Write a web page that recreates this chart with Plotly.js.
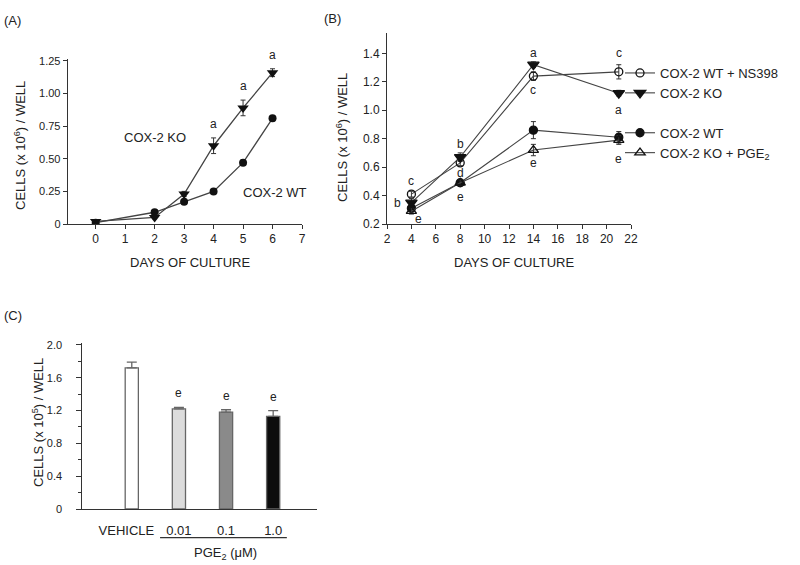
<!DOCTYPE html>
<html>
<head>
<meta charset="utf-8">
<script src="https://cdn.plot.ly/plotly-3.0.1.min.js"></script>
<style>html,body{margin:0;padding:0;background:#fff;}#chart{width:800px;height:565px;}</style>
</head>
<body>
<div id="chart"></div>
<script>
// ---------- Panel A data ----------
const daysA = [0, 2, 3, 4, 5, 6];
const koA = [0.02, 0.05, 0.23, 0.60, 0.89, 1.16];
const koErrA = [0.01, 0.01, 0.02, 0.06, 0.06, 0.03];
const wtA = [0.01, 0.09, 0.17, 0.25, 0.47, 0.81];
const wtErrA = [0.005, 0.01, 0.01, 0.01, 0.02, 0.02];
const lettersA = ['', '', '', 'a', 'a', 'a'];
const ticksAx = [0, 1, 2, 3, 4, 5, 6, 7];
const ticksAy = [0, 0.25, 0.5, 0.75, 1.0, 1.25];
const tickTextAy = ['0', '0.25', '0.50', '0.75', '1.00', '1.25'];

// ---------- Panel B data ----------
const daysB = [4, 8, 14, 21];
const ns398B = [0.41, 0.63, 1.24, 1.27];
const ns398ErrB = [0.02, 0.02, 0.03, 0.05];
const koB = [0.35, 0.67, 1.32, 1.12];
const koErrB = [0.03, 0.03, 0.02, 0.02];
const wtB = [0.31, 0.49, 0.86, 0.81];
const wtErrB = [0.02, 0.02, 0.06, 0.04];
const koPgeB = [0.29, 0.49, 0.72, 0.79];
const koPgeErrB = [0.02, 0.02, 0.04, 0.03];
const namesB = ['COX-2 WT + NS398', 'COX-2 KO', 'COX-2 WT', 'COX-2 KO + PGE<sub>2</sub>'];
const ticksBx = [2, 4, 6, 8, 10, 12, 14, 16, 18, 20, 22];
const ticksBy = [0.2, 0.4, 0.6, 0.8, 1.0, 1.2, 1.4];
const tickTextBy = ['0.2', '0.4', '0.6', '0.8', '1.0', '1.2', '1.4'];
// letter labels for panel B: [letter, day, y]
const lettersB = [
  ['c', 4, 0.50], ['b', 2.87, 0.35], ['e', 4.6, 0.235],
  ['b', 8, 0.76], ['d', 8, 0.56], ['e', 8, 0.39],
  ['a', 14, 1.405], ['c', 14, 1.14], ['e', 14, 0.63],
  ['c', 21, 1.40], ['a', 21, 1.00], ['e', 21, 0.66]
];

// ---------- Panel C data ----------
const catsC = ['VEHICLE', '0.01', '0.1', '1.0'];
const valsC = [1.72, 1.22, 1.18, 1.13];
const errC = [0.07, 0.02, 0.03, 0.07];
const lettersC = ['', 'e', 'e', 'e'];
const colorsC = ['#ffffff', '#dcdcdc', '#8a8a8a', '#0d0d0d'];
const ticksCy = [0, 0.4, 0.8, 1.2, 1.6, 2.0];
const tickTextCy = ['0', '0.4', '0.8', '1.2', '1.6', '2.0'];
const minorCy = [0.2, 0.6, 1.0, 1.4, 1.8];

const FONT = 'Arial, "Liberation Sans", Helvetica, sans-serif';
const INK = '#222';
const LINE = '#444';

function errBar(arr, w) {
  return {type: 'data', array: arr, visible: true, color: '#333', thickness: 1, width: w};
}

const traces = [];
// Panel A
traces.push({
  x: daysA, y: wtA, xaxis: 'x', yaxis: 'y', mode: 'lines+markers', showlegend: false,
  line: {color: LINE, width: 1.3},
  marker: {symbol: 'circle', size: 8, color: '#111'},
  error_y: errBar(wtErrA, 2.5)
});
traces.push({
  x: daysA, y: koA, xaxis: 'x', yaxis: 'y', mode: 'lines+markers', showlegend: false,
  line: {color: LINE, width: 1.3},
  marker: {symbol: 'triangle-down', size: 10, color: '#111'},
  error_y: errBar(koErrA, 2.5)
});

// Panel B
const specB = [
  {y: ns398B, e: ns398ErrB, sym: 'circle-open', size: 8, g: 'g1'},
  {y: koB, e: koErrB, sym: 'triangle-down', size: 10, g: 'g1'},
  {y: wtB, e: wtErrB, sym: 'circle', size: 8, g: 'g2'},
  {y: koPgeB, e: koPgeErrB, sym: 'triangle-up-open', size: 9, g: 'g2'}
];
specB.forEach((s, i) => {
  traces.push({
    x: daysB, y: s.y, xaxis: 'x2', yaxis: 'y2', mode: 'lines+markers',
    name: namesB[i], legendgroup: s.g,
    line: {color: LINE, width: 1.1},
    marker: {symbol: s.sym, size: s.size, color: '#111', line: {color: '#111', width: 1.3}},
    error_y: errBar(s.e, 2.5)
  });
});

// Panel C
traces.push({
  type: 'bar', x: catsC.map((c, i) => i), y: valsC, xaxis: 'x3', yaxis: 'y3', showlegend: false,
  width: 0.28,
  marker: {color: colorsC, line: {color: '#666', width: 1.3}},
  error_y: {type: 'data', array: errC, arrayminus: errC.map(() => 0), symmetric: false,
            color: '#666', thickness: 1.3, width: 5}
});

const annotations = [];
function ann(o) {
  annotations.push(Object.assign({showarrow: false, font: {family: FONT, size: 13, color: INK}}, o));
}
// panel labels
ann({text: '(A)', xref: 'paper', yref: 'paper', x: 2 / 800, y: 1 - 20 / 565, xanchor: 'left', yanchor: 'middle'});
ann({text: '(B)', xref: 'paper', yref: 'paper', x: 322 / 800, y: 1 - 18 / 565, xanchor: 'left', yanchor: 'middle'});
ann({text: '(C)', xref: 'paper', yref: 'paper', x: 2 / 800, y: 1 - 315 / 565, xanchor: 'left', yanchor: 'middle'});
// axis titles
ann({text: 'CELLS (x 10<sup>6</sup>) / WELL', xref: 'paper', yref: 'paper', x: 20 / 800, y: 1 - 146 / 565, textangle: -90, xanchor: 'center', yanchor: 'middle'});
ann({text: 'DAYS OF CULTURE', xref: 'paper', yref: 'paper', x: 190 / 800, y: 1 - 263 / 565, xanchor: 'center', yanchor: 'middle'});
ann({text: 'CELLS (x 10<sup>6</sup>) / WELL', xref: 'paper', yref: 'paper', x: 342 / 800, y: 1 - 138 / 565, textangle: -90, xanchor: 'center', yanchor: 'middle'});
ann({text: 'DAYS OF CULTURE', xref: 'paper', yref: 'paper', x: 514 / 800, y: 1 - 262 / 565, xanchor: 'center', yanchor: 'middle'});
ann({text: 'CELLS (x 10<sup>5</sup>) / WELL', xref: 'paper', yref: 'paper', x: 38 / 800, y: 1 - 423 / 565, textangle: -90, xanchor: 'center', yanchor: 'middle'});
ann({text: 'PGE<sub>2</sub> (\u03bcM)', xref: 'paper', yref: 'paper', x: 226 / 800, y: 1 - 553 / 565, xanchor: 'center', yanchor: 'middle'});
// curve labels panel A
ann({text: 'COX-2 KO', xref: 'x', yref: 'y', x: 2.0, y: 0.667, xanchor: 'center', yanchor: 'middle'});
ann({text: 'COX-2 WT', xref: 'x', yref: 'y', x: 6.1, y: 0.245, xanchor: 'center', yanchor: 'middle'});
// letters panel A
lettersA.forEach((l, i) => {
  if (l) ann({text: l, xref: 'x', yref: 'y', x: daysA[i], y: koA[i] + koErrA[i], yshift: 14, xanchor: 'center', yanchor: 'middle', font: {family: FONT, size: 12, color: INK}});
});
// letters panel B
lettersB.forEach(l => {
  ann({text: l[0], xref: 'x2', yref: 'y2', x: l[1], y: l[2], xanchor: 'center', yanchor: 'middle', font: {family: FONT, size: 12, color: INK}});
});
// letters panel C
lettersC.forEach((l, i) => {
  if (l) ann({text: l, xref: 'x3', yref: 'y3', x: i, y: valsC[i] + errC[i], yshift: 14, xanchor: 'center', yanchor: 'middle', font: {family: FONT, size: 12, color: INK}});
});

const axBase = {
  showline: true, linecolor: '#333', linewidth: 1, ticks: 'outside', ticklen: 4, tickcolor: '#333',
  showgrid: false, zeroline: false, tickfont: {family: FONT, size: 12, color: INK}, fixedrange: true
};

const layout = {
  width: 800, height: 565,
  margin: {l: 0, r: 0, t: 0, b: 0},
  paper_bgcolor: '#fff', plot_bgcolor: 'rgba(0,0,0,0)',
  font: {family: FONT, color: INK},
  showlegend: true,
  legend: {
    x: 620 / 800, y: 1 - 58 / 565, xanchor: 'left', yanchor: 'top',
    font: {family: FONT, size: 13, color: INK}, tracegroupgap: 20, traceorder: 'grouped',
    bgcolor: 'rgba(0,0,0,0)', itemwidth: 30
  },
  xaxis: Object.assign({}, axBase, {domain: [67.7 / 800, 302 / 800], range: [-0.95, 7], anchor: 'y', tickmode: 'array', tickvals: ticksAx, tickangle: 0}),
  yaxis: Object.assign({}, axBase, {domain: [1 - 224 / 565, 1 - 59 / 565], range: [0, 1.265], anchor: 'x', tickmode: 'array', tickvals: ticksAy, ticktext: tickTextAy, tickfont: {family: FONT, size: 11, color: INK}}),
  xaxis2: Object.assign({}, axBase, {domain: [387 / 800, 631 / 800], range: [2, 22], anchor: 'y2', tickmode: 'array', tickvals: ticksBx, tickangle: 0}),
  yaxis2: Object.assign({}, axBase, {domain: [1 - 224 / 565, 1 - 33 / 565], range: [0.2, 1.543], anchor: 'x2', tickmode: 'array', tickvals: ticksBy, ticktext: tickTextBy}),
  xaxis3: Object.assign({}, axBase, {domain: [82.3 / 800, 317 / 800], range: [-1.05, 3.93], anchor: 'y3', tickmode: 'array',
    tickvals: catsC.map((c, i) => i), ticktext: catsC.map((c, i) => i === 0 ? c + '\u00a0\u00a0\u00a0' : c),
    tickangle: 0, ticklen: 9, tickcolor: 'rgba(0,0,0,0)', tickfont: {family: FONT, size: 13, color: INK}}),
  yaxis3: Object.assign({}, axBase, {domain: [1 - 509 / 565, 1 - 343 / 565], range: [0, 2.024], anchor: 'x3', tickmode: 'array',
    tickvals: ticksCy, ticktext: tickTextCy, ticklen: 5, ticklabelstandoff: 12, tickfont: {family: FONT, size: 11, color: INK},
    minor: {tickmode: 'array', tickvals: minorCy, ticks: 'outside', ticklen: 3, tickcolor: '#333', showgrid: false}}),
  shapes: [
    {type: 'line', xref: 'x3', yref: 'paper', x0: 0.6, x1: 3.29, y0: 1 - 537.7 / 565, y1: 1 - 537.7 / 565, line: {color: '#333', width: 1.2}}
  ],
  annotations: annotations
};

Plotly.newPlot('chart', traces, layout, {displayModeBar: false, staticPlot: true});
</script>
</body>
</html>
